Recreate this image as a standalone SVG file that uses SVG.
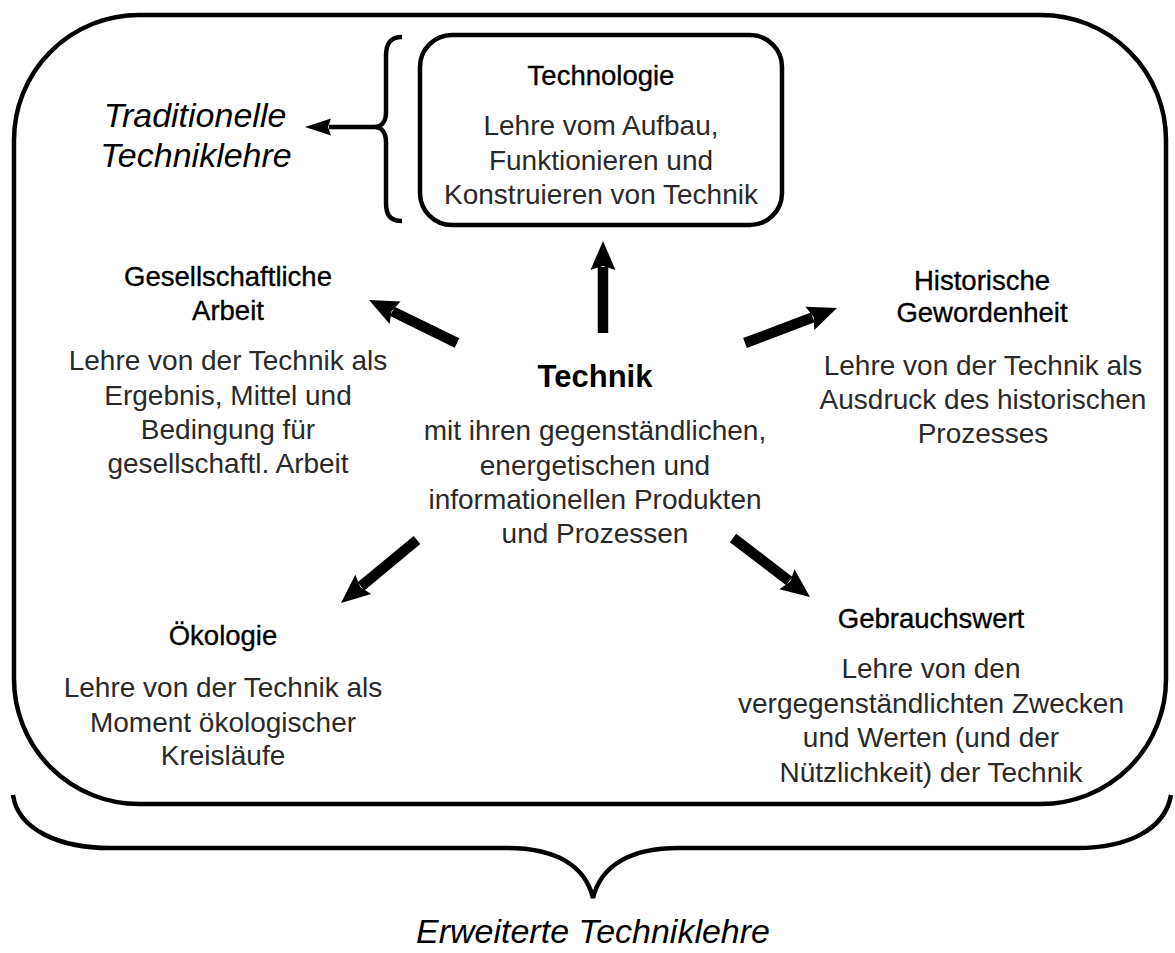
<svg xmlns="http://www.w3.org/2000/svg" width="1175" height="953" viewBox="0 0 1175 953">
<defs>
<marker id="big" markerUnits="userSpaceOnUse" markerWidth="34" markerHeight="30" viewBox="-4 -15 34 30" refX="0" refY="0" orient="auto">
<path d="M-3,-12.5 L26,0 L-3,12.5 L1,0 z" fill="#000"/>
</marker>
<marker id="small" markerUnits="userSpaceOnUse" markerWidth="30" markerHeight="20" viewBox="-4 -10 30 20" refX="0" refY="0" orient="auto">
<path d="M-2,-8.5 L24,0 L-2,8.5 L1,0 z" fill="#000"/>
</marker>
<style>
.frame{fill:none;stroke:#000;stroke-width:4.5}
.head{font-family:"Liberation Sans",Arial,sans-serif;font-size:27.5px;fill:#000;text-anchor:middle;stroke:#000;stroke-width:0.35}
.body{font-family:"Liberation Sans",Arial,sans-serif;font-size:28px;fill:#2a2a2a;text-anchor:middle}
.ital{font-family:"Liberation Sans",Arial,sans-serif;font-size:34px;font-style:italic;fill:#000;text-anchor:middle}
.main{font-family:"Liberation Sans",Arial,sans-serif;font-size:31px;font-weight:bold;fill:#000;text-anchor:middle}
.arr{stroke:#000;stroke-width:10.5;fill:none;marker-end:url(#big)}
.arrs{stroke:#000;stroke-width:4.5;fill:none;marker-end:url(#small)}
</style>
</defs>
<g id="frame">
<rect class="frame" x="14" y="15" width="1152" height="789" rx="125" ry="125"/>
<path class="frame" d="M13,795 C18,830 60,848 110,848 L507,848 C555,848 585,865 593,898 C601,865 631,848 679,848 L1077,848 C1127,848 1165,830 1171,795"/>
<text class="ital" x="593" y="943">Erweiterte Techniklehre</text>
</g>
<g id="traditionelle">
<path class="frame" d="M402,37 C390,37 386,44 386,56 L386,112 C386,121 382,127 374,127 C382,127 386,133 386,142 L386,203 C386,215 390,221 402,221"/>
<text class="ital" x="195" y="127">Traditionelle</text>
<text class="ital" x="196" y="167">Techniklehre</text>
</g>
<g id="technologie">
<rect class="frame" x="420" y="35" width="362" height="190" rx="32" ry="32"/>
<text class="head" x="601" y="85">Technologie</text>
<text class="body" x="601" y="135">Lehre vom Aufbau,</text>
<text class="body" x="601" y="170">Funktionieren und</text>
<text class="body" x="601" y="204">Konstruieren von Technik</text>
</g>
<g id="technik">
<text class="main" x="595" y="387">Technik</text>
<text class="body" x="595" y="440">mit ihren gegenständlichen,</text>
<text class="body" x="595" y="475">energetischen und</text>
<text class="body" x="595" y="509">informationellen Produkten</text>
<text class="body" x="595" y="543">und Prozessen</text>
</g>
<g id="gesellschaftliche">
<text class="head" x="228" y="286">Gesellschaftliche</text>
<text class="head" x="228" y="320">Arbeit</text>
<text class="body" x="228" y="370">Lehre von der Technik als</text>
<text class="body" x="228" y="405">Ergebnis, Mittel und</text>
<text class="body" x="228" y="439">Bedingung für</text>
<text class="body" x="228" y="473">gesellschaftl. Arbeit</text>
</g>
<g id="historische">
<text class="head" x="982" y="290">Historische</text>
<text class="head" x="982" y="322">Gewordenheit</text>
<text class="body" x="983" y="375">Lehre von der Technik als</text>
<text class="body" x="983" y="409">Ausdruck des historischen</text>
<text class="body" x="983" y="443">Prozesses</text>
</g>
<g id="oekologie">
<text class="head" x="223" y="645">Ökologie</text>
<text class="body" x="223" y="697">Lehre von der Technik als</text>
<text class="body" x="223" y="732">Moment ökologischer</text>
<text class="body" x="223" y="765">Kreisläufe</text>
</g>
<g id="gebrauchswert">
<text class="head" x="931" y="628">Gebrauchswert</text>
<text class="body" x="931" y="678">Lehre von den</text>
<text class="body" x="931" y="713">vergegenständlichten Zwecken</text>
<text class="body" x="931" y="747">und Werten (und der</text>
<text class="body" x="931" y="782">Nützlichkeit) der Technik</text>
</g>
<g id="connectors">
<line class="arrs" x1="374" y1="127" x2="329" y2="127"/>
<line class="arr" x1="603" y1="333" x2="603" y2="267"/>
<line class="arr" x1="457" y1="343" x2="392.4" y2="311.4"/>
<line class="arr" x1="745" y1="343" x2="812.7" y2="317.3"/>
<line class="arr" x1="417" y1="540" x2="361" y2="586.4"/>
<line class="arr" x1="733" y1="538" x2="789.3" y2="581.1"/>
</g>
</svg>
